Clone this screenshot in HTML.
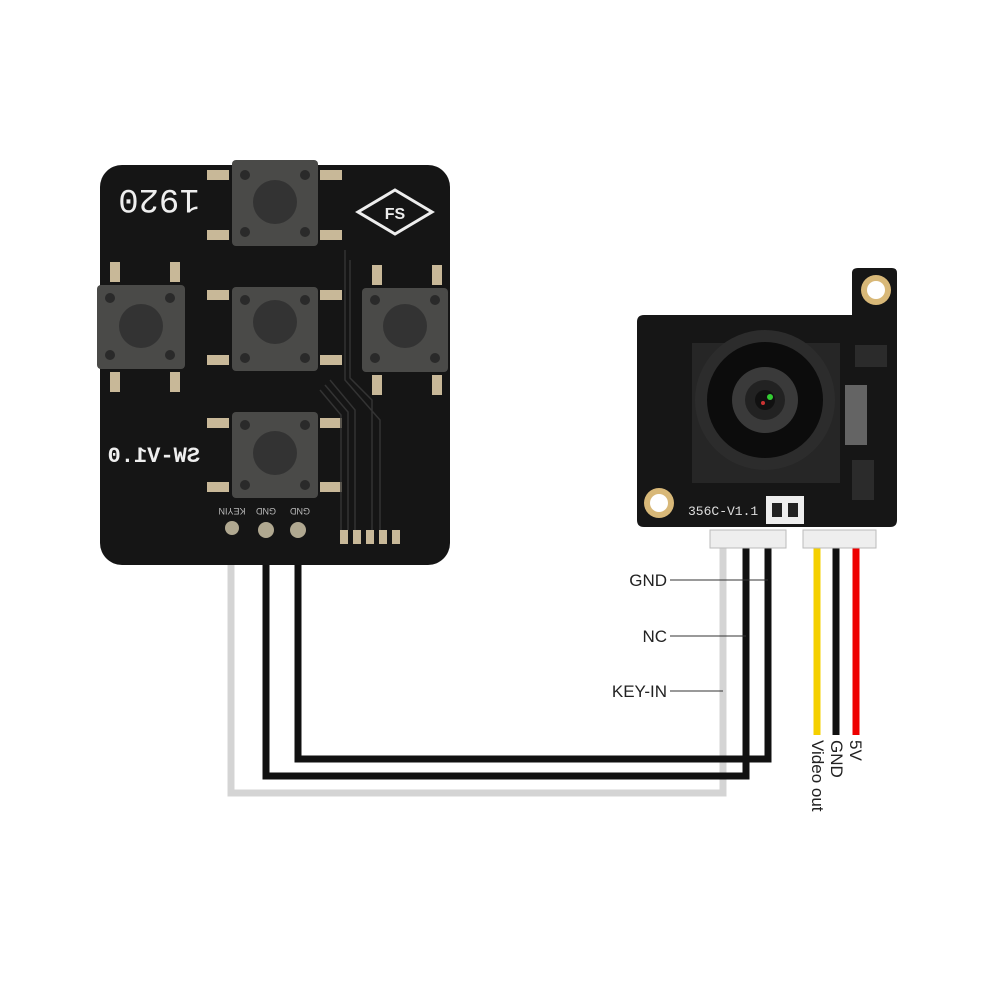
<!DOCTYPE html>
<html><head><style>body{margin:0;background:#fff}svg{display:block}</style></head><body>
<svg width="1000" height="1000" viewBox="0 0 1000 1000" xmlns="http://www.w3.org/2000/svg" font-family="Liberation Sans, sans-serif">
<rect width="1000" height="1000" fill="#fff"/>
<g fill="none" stroke-linejoin="miter">
<polyline points="231,530 231,793 723,793 723,548" stroke="#d4d4d4" stroke-width="7"/>
<polyline points="266,530 266,776 746,776 746,548" stroke="#111" stroke-width="7"/>
<polyline points="298,530 298,759 768,759 768,548" stroke="#111" stroke-width="7"/>
<line x1="817" y1="548" x2="817" y2="735" stroke="#f5d000" stroke-width="7"/>
<line x1="836" y1="548" x2="836" y2="735" stroke="#111" stroke-width="7"/>
<line x1="856" y1="548" x2="856" y2="735" stroke="#e00" stroke-width="7"/>
</g>
<g stroke="#333" stroke-width="1">
<line x1="670" y1="580" x2="768" y2="580"/><line x1="670" y1="636" x2="746" y2="636"/><line x1="670" y1="691" x2="723" y2="691"/>
</g>
<g font-size="17" fill="#222" text-anchor="end">
<text x="667" y="586">GND</text><text x="667" y="642">NC</text><text x="667" y="697">KEY-IN</text>
</g>
<g font-size="17" fill="#222">
<text transform="translate(850,740) rotate(90)">5V</text>
<text transform="translate(831,740) rotate(90)">GND</text>
<text transform="translate(812,740) rotate(90)">Video out</text>
</g>
<rect x="100" y="165" width="350" height="400" rx="22" fill="#151515"/>
<g fill="#c8b898">
<rect x="207" y="170" width="22" height="10"/><rect x="320" y="170" width="22" height="10"/>
<rect x="207" y="230" width="22" height="10"/><rect x="320" y="230" width="22" height="10"/>
<rect x="207" y="290" width="22" height="10"/><rect x="320" y="290" width="22" height="10"/>
<rect x="207" y="355" width="22" height="10"/><rect x="320" y="355" width="22" height="10"/>
<rect x="207" y="418" width="22" height="10"/><rect x="320" y="418" width="22" height="10"/>
<rect x="207" y="482" width="22" height="10"/><rect x="320" y="482" width="22" height="10"/>
<rect x="110" y="262" width="10" height="20"/><rect x="170" y="262" width="10" height="20"/>
<rect x="110" y="372" width="10" height="20"/><rect x="170" y="372" width="10" height="20"/>
<rect x="372" y="265" width="10" height="20"/><rect x="432" y="265" width="10" height="20"/>
<rect x="372" y="375" width="10" height="20"/><rect x="432" y="375" width="10" height="20"/>
<rect x="340" y="530" width="8" height="14"/><rect x="353" y="530" width="8" height="14"/><rect x="366" y="530" width="8" height="14"/><rect x="379" y="530" width="8" height="14"/><rect x="392" y="530" width="8" height="14"/>
</g>
<g fill="none" stroke="#333" stroke-width="1.5">
<path d="M345,250 V380 L380,420 V530 M350,260 V378 L372,400 V530 M330,380 L355,410 V530 M325,385 L348,412 V530 M320,390 L341,415 V530"/>
</g>
<g>
<rect x="232" y="160" width="86" height="86" rx="4" fill="#4a4a48"/><circle cx="275" cy="202" r="22" fill="#333"/>
<rect x="97" y="285" width="88" height="84" rx="4" fill="#4a4a48"/><circle cx="141" cy="326" r="22" fill="#333"/>
<rect x="232" y="287" width="86" height="84" rx="4" fill="#4a4a48"/><circle cx="275" cy="322" r="22" fill="#333"/>
<rect x="362" y="288" width="86" height="84" rx="4" fill="#4a4a48"/><circle cx="405" cy="326" r="22" fill="#333"/>
<rect x="232" y="412" width="86" height="86" rx="4" fill="#4a4a48"/><circle cx="275" cy="453" r="22" fill="#333"/>
</g>
<g fill="#2a2a2a">
<circle cx="245" cy="175" r="5"/><circle cx="305" cy="175" r="5"/><circle cx="245" cy="232" r="5"/><circle cx="305" cy="232" r="5"/>
<circle cx="110" cy="298" r="5"/><circle cx="170" cy="298" r="5"/><circle cx="110" cy="355" r="5"/><circle cx="170" cy="355" r="5"/>
<circle cx="245" cy="300" r="5"/><circle cx="305" cy="300" r="5"/><circle cx="245" cy="358" r="5"/><circle cx="305" cy="358" r="5"/>
<circle cx="375" cy="300" r="5"/><circle cx="435" cy="300" r="5"/><circle cx="375" cy="358" r="5"/><circle cx="435" cy="358" r="5"/>
<circle cx="245" cy="425" r="5"/><circle cx="305" cy="425" r="5"/><circle cx="245" cy="485" r="5"/><circle cx="305" cy="485" r="5"/>
</g>
<text transform="rotate(180 159 203)" x="159" y="216" font-family="Liberation Mono, monospace" font-size="34" fill="#eee" text-anchor="middle">1920</text>
<text transform="translate(200,462) scale(-1,1)" font-family="Liberation Mono, monospace" font-size="22" font-weight="bold" fill="#eee">SW-V1.0</text>
<polygon points="395,190 432,212 395,234 358,212" fill="none" stroke="#eee" stroke-width="3"/>
<text x="395" y="219" font-size="16" font-weight="bold" fill="#eee" text-anchor="middle">FS</text>
<g font-size="9" fill="#bbb" text-anchor="middle"><text transform="translate(232,508) rotate(180)">KEYIN</text><text transform="translate(266,508) rotate(180)">GND</text><text transform="translate(300,508) rotate(180)">GND</text></g>
<g fill="#b0a890"><circle cx="232" cy="528" r="7"/><circle cx="266" cy="530" r="8"/><circle cx="298" cy="530" r="8"/></g>
<path d="M644,315 H852 V273 Q852,268 858,268 H892 Q897,268 897,273 V520 Q897,527 890,527 H644 Q637,527 637,520 V322 Q637,315 644,315 Z" fill="#161616"/>
<circle cx="876" cy="290" r="15" fill="#d8b878"/><circle cx="876" cy="290" r="9" fill="#fff"/>
<circle cx="659" cy="503" r="15" fill="#d8b878"/><circle cx="659" cy="503" r="9" fill="#fff"/>
<rect x="692" y="343" width="148" height="140" fill="#262626"/>
<circle cx="765" cy="400" r="70" fill="#2c2c2c"/><circle cx="765" cy="400" r="58" fill="#0c0c0c"/>
<circle cx="765" cy="400" r="33" fill="#3a3a3a"/><circle cx="765" cy="400" r="20" fill="#222"/><circle cx="765" cy="400" r="10" fill="#111"/>
<circle cx="770" cy="397" r="3" fill="#3c3"/><circle cx="763" cy="403" r="2" fill="#c33"/>
<rect x="845" y="385" width="22" height="60" fill="#999" opacity="0.6"/>
<rect x="852" y="460" width="22" height="40" fill="#2b2b2b"/>
<rect x="855" y="345" width="32" height="22" fill="#2b2b2b"/>
<text x="688" y="515" font-family="Liberation Mono, monospace" font-size="13" fill="#ddd">356C-V1.1</text>
<rect x="766" y="496" width="38" height="28" fill="#eee"/><rect x="772" y="503" width="10" height="14" fill="#222"/><rect x="788" y="503" width="10" height="14" fill="#222"/>
<rect x="710" y="530" width="76" height="18" fill="#eee" stroke="#bbb"/>
<rect x="803" y="530" width="73" height="18" fill="#eee" stroke="#bbb"/>
</svg>
</body></html>
